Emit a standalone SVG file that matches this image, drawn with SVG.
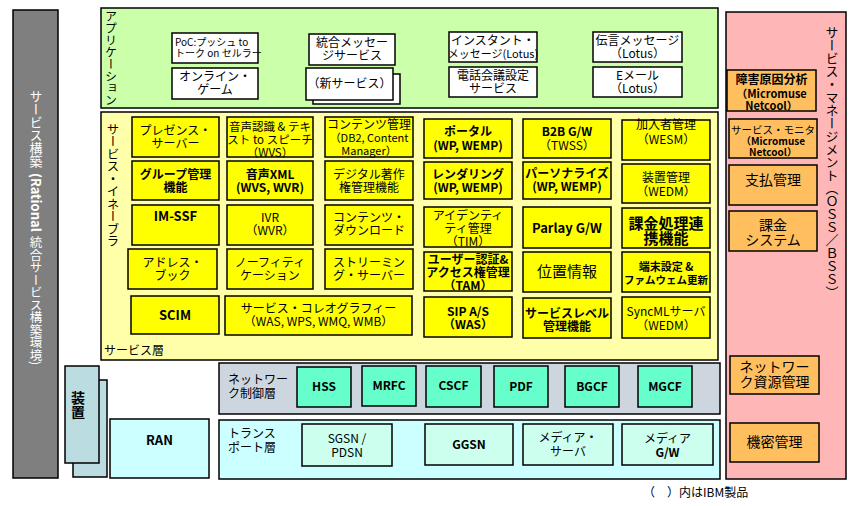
<svg xmlns="http://www.w3.org/2000/svg" width="857" height="506" viewBox="0 0 857 506">
<style>
text{font-family:"Noto Sans CJK JP","Noto Sans",sans-serif;font-size:12px;fill:#000;text-anchor:middle}
.s{text-anchor:start}
.b{font-weight:bold}
.v{writing-mode:vertical-rl}
.w{fill:#fff}
rect{stroke:#000;stroke-width:1.5}
rect.bg{stroke:none}
.app{fill:#fff}
.yl{fill:#ffff00}
.or{fill:#ffbf5f}
.aq{fill:#66ffcc}
.mt{fill:#ccffee}
</style>
<rect class="bg" width="857" height="506" fill="#fff"/>
<g id="build-env">
<rect x="13" y="10" width="45" height="468" fill="#7f7f7f"/>
<text class="v s w" x="36" y="90" style="font-size:13px">サービス構築</text>
<text class="v s w b" x="36" y="173" style="font-size:13px">(Rational</text>
<text class="v s w" x="36" y="236" style="font-size:12.5px">統合サービス構築環境)</text>
</g>
<g id="application-layer">
<rect x="101" y="8" width="617" height="100" fill="#ccffaa"/>
<text class="v" x="111" y="58" style="font-size:12px">アプリケーション</text>
</g>
<g id="service-management">
<rect x="726" y="12" width="120" height="467" fill="#ffb6b6"/>
<text class="v" x="832" y="162" style="font-size:13px">サービス・マネージメント（ＯＳＳ／ＢＳＳ）</text>
</g>
<g id="service-layer">
<rect x="101" y="112" width="617" height="248" fill="#ffffaa"/>
<text class="v" x="113" y="185" style="font-size:12.5px">サービス・イネーブラ</text>
<text class="s" x="104" y="355">サービス層</text>
</g>
<g id="network-control-layer">
<rect x="219" y="363" width="501" height="51" fill="#cdd6df"/>
<text class="s" x="228" y="384">ネットワー</text>
<text class="s" x="228" y="398">ク制御層</text>
</g>
<g id="transport-layer">
<rect x="219" y="420" width="501" height="59" fill="#ccffff"/>
<text class="s" x="228" y="438">トランス</text>
<text class="s" x="228" y="452">ポート層</text>
</g>
<g id="device">
<rect x="73" y="380" width="34" height="97" fill="#bbdde2"/>
<rect x="65" y="366" width="34" height="97" fill="#bbdde2"/>
<text class="v b" x="78" y="405" style="font-size:14px">装置</text>
</g>
<g id="ran">
<rect x="110" y="419" width="99" height="59" fill="#ccffff"/>
<text class="b" x="159.5" y="445" style="font-size:13px">RAN</text>
</g>

<!-- Application nodes -->
<g id="app-poc"><rect class="app" x="172" y="33" width="86" height="30"/>
<text class="s" x="175" y="46" style="font-size:10px">PoC:プッシュ to</text>
<text class="s" x="175" y="57" style="font-size:10px">トーク on セルラー</text></g>
<g id="app-game"><rect class="app" x="172" y="68" width="86" height="31"/>
<text x="215" y="81">オンライン・</text><text x="215" y="94">ゲーム</text></g>
<g id="app-unified-msg"><rect class="app" x="309" y="34" width="86" height="31"/>
<text x="352" y="47">統合メッセー</text><text x="352" y="60">ジサービス</text></g>
<g id="app-new"><rect class="app" x="313" y="74" width="87" height="30"/>
<rect class="app" x="306" y="68" width="87" height="32"/>
<text x="349.5" y="88">（新サービス）</text></g>
<g id="app-im"><rect class="app" x="449" y="32" width="88" height="30"/>
<text x="493" y="45">インスタント・</text><text x="493" y="58" style="font-size:11px">メッセージ(Lotus)</text></g>
<g id="app-conf"><rect class="app" x="449" y="67" width="88" height="30"/>
<text x="493" y="80">電話会議設定</text><text x="493" y="93">サービス</text></g>
<g id="app-voicemsg"><rect class="app" x="593" y="32" width="89" height="30"/>
<text x="637.5" y="45">伝言メッセージ</text><text x="637.5" y="58">（Lotus）</text></g>
<g id="app-email"><rect class="app" x="593" y="67" width="89" height="30"/>
<text x="637.5" y="80">Eメール</text><text x="637.5" y="93">（Lotus）</text></g>

<!-- Service enablers col1 -->
<g id="se-presence"><rect class="yl" x="132" y="117" width="87" height="40"/>
<text x="175.5" y="135">プレゼンス・</text><text x="175.5" y="148">サーバー</text></g>
<g id="se-group"><rect class="yl" x="132" y="161" width="87" height="39"/>
<text class="b" x="175.5" y="178.5">グループ管理</text><text class="b" x="175.5" y="191.5">機能</text></g>
<g id="se-imssf"><rect class="yl" x="132" y="205" width="87" height="40"/>
<text class="b" x="175.5" y="221" style="font-size:13px">IM-SSF</text></g>
<g id="se-address"><rect class="yl" x="128" y="249" width="89" height="40"/>
<text x="172.5" y="267">アドレス・</text><text x="172.5" y="280">ブック</text></g>
<g id="se-scim"><rect class="yl" x="131" y="296" width="88" height="38"/>
<text class="b" x="175" y="320" style="font-size:13px">SCIM</text></g>

<!-- col2 -->
<g id="se-tts"><rect class="yl" x="227" y="117" width="86" height="40"/>
<text x="270" y="131" style="font-size:11.5px">音声認識 &amp; テキ</text>
<text x="270" y="144" style="font-size:11.5px">スト to スピーチ</text>
<text x="270" y="157" style="font-size:11.5px">（WVS）</text></g>
<g id="se-voicexml"><rect class="yl" x="227" y="161" width="86" height="39"/>
<text class="b" x="270" y="178.5">音声XML</text><text class="b" x="270" y="191.5">(WVS, WVR)</text></g>
<g id="se-ivr"><rect class="yl" x="227" y="205" width="86" height="40"/>
<text x="270" y="222">IVR</text><text x="270" y="235">（WVR）</text></g>
<g id="se-notification"><rect class="yl" x="227" y="249" width="86" height="40"/>
<text x="270" y="267">ノーフィティ</text><text x="270" y="280">ケーション</text></g>
<g id="se-choreography"><rect class="yl" x="225" y="296" width="187" height="39"/>
<text x="318.5" y="313">サービス・コレオグラフィー</text><text x="318.5" y="326">（WAS, WPS, WMQ, WMB）</text></g>

<!-- col3 -->
<g id="se-content-mgmt"><rect class="yl" x="325" y="117" width="88" height="40"/>
<text x="369" y="129">コンテンツ管理</text>
<text x="369" y="142" style="font-size:11px">（DB2, Content</text>
<text x="369" y="155" style="font-size:11px">Manager）</text></g>
<g id="se-drm"><rect class="yl" x="325" y="161" width="88" height="39"/>
<text x="369" y="178.5">デジタル著作</text><text x="369" y="191.5">権管理機能</text></g>
<g id="se-download"><rect class="yl" x="325" y="205" width="88" height="40"/>
<text x="369" y="221.5">コンテンツ・</text><text x="369" y="234.5">ダウンロード</text></g>
<g id="se-streaming"><rect class="yl" x="325" y="249" width="88" height="40"/>
<text x="369" y="267">ストリーミン</text><text x="369" y="280">グ・サーバー</text></g>

<!-- col4 -->
<g id="se-portal"><rect class="yl" x="424" y="119" width="88" height="39"/>
<text class="b" x="468" y="136">ポータル</text><text class="b" x="468" y="150">(WP, WEMP)</text></g>
<g id="se-rendering"><rect class="yl" x="424" y="162" width="88" height="37"/>
<text class="b" x="468" y="178.5">レンダリング</text><text class="b" x="468" y="191.5">(WP, WEMP)</text></g>
<g id="se-identity"><rect class="yl" x="424" y="207" width="88" height="40"/>
<text x="468" y="220">アイデンティ</text><text x="468" y="233">ティ管理</text><text x="468" y="246">（TIM）</text></g>
<g id="se-auth"><rect class="yl" x="424" y="252" width="88" height="39"/>
<text class="b" x="468" y="264">ユーザー認証&amp;</text><text class="b" x="468" y="277">アクセス権管理</text><text class="b" x="468" y="290">（TAM）</text></g>
<g id="se-sip"><rect class="yl" x="424" y="297" width="88" height="40"/>
<text class="b" x="468" y="316">SIP A/S</text><text class="b" x="468" y="329">（WAS）</text></g>

<!-- col5 -->
<g id="se-b2b"><rect class="yl" x="523" y="119" width="88" height="39"/>
<text class="b" x="567" y="136">B2B G/W</text><text x="567" y="150">（TWSS）</text></g>
<g id="se-personalize"><rect class="yl" x="523" y="162" width="88" height="37"/>
<text class="b" x="567" y="178">パーソナライズ</text><text class="b" x="567" y="191">(WP, WEMP)</text></g>
<g id="se-parlay"><rect class="yl" x="523" y="207" width="88" height="41"/>
<text class="b" x="567" y="233" style="font-size:13px">Parlay G/W</text></g>
<g id="se-location"><rect class="yl" x="523" y="252" width="88" height="40"/>
<text x="567" y="277" style="font-size:15px">位置情報</text></g>
<g id="se-sla"><rect class="yl" x="523" y="298" width="88" height="40"/>
<text class="b" x="567" y="318">サービスレベル</text><text class="b" x="567" y="331">管理機能</text></g>

<!-- col6 -->
<g id="se-subscriber"><rect class="yl" x="622" y="120" width="88" height="40"/>
<text x="666" y="129">加入者管理</text><text x="666" y="144">（WESM）</text></g>
<g id="se-device-mgmt"><rect class="yl" x="622" y="164" width="88" height="39"/>
<text x="666" y="182">装置管理</text><text x="666" y="196">（WEDM）</text></g>
<g id="se-billing-link"><rect class="yl" x="622" y="208" width="88" height="40"/>
<text class="b" x="666" y="228.5" style="font-size:15px">課金処理連</text><text class="b" x="666" y="244" style="font-size:15px">携機能</text></g>
<g id="se-terminal"><rect class="yl" x="622" y="252" width="88" height="40"/>
<text class="b" x="666" y="271" style="font-size:11px">端末設定 &amp;</text><text class="b" x="666" y="284" style="font-size:10.5px">ファムウェム更新</text></g>
<g id="se-syncml"><rect class="yl" x="622" y="297" width="88" height="41"/>
<text x="666" y="316">SyncMLサーバ</text><text x="666" y="330">（WEDM）</text></g>

<!-- management -->
<g id="sm-fault"><rect class="or" x="727" y="70" width="89" height="41"/>
<text class="b" x="771.5" y="83.5">障害原因分析</text>
<text class="b" x="771.5" y="98" style="font-size:11px">（Micromuse</text>
<text class="b" x="771.5" y="110" style="font-size:11px">Netcool）</text></g>
<g id="sm-monitor"><rect class="or" x="729" y="119" width="88" height="39"/>
<text x="773" y="134" style="font-size:10.5px">サービス・モニタ</text>
<text class="b" x="773" y="145" style="font-size:10px">（Micromuse</text>
<text class="b" x="773" y="156" style="font-size:10px">Netcool）</text></g>
<g id="sm-payment"><rect class="or" x="729" y="165" width="88" height="40"/>
<text x="773" y="185" style="font-size:14px">支払管理</text></g>
<g id="sm-billing"><rect class="or" x="729" y="211" width="88" height="40"/>
<text x="773" y="230" style="font-size:14px">課金</text><text x="773" y="245" style="font-size:14px">システム</text></g>
<g id="sm-network-resource"><rect class="or" x="730" y="356" width="89" height="38"/>
<text x="774.5" y="372" style="font-size:14px">ネットワー</text><text x="774.5" y="387" style="font-size:14px">ク資源管理</text></g>
<g id="sm-security"><rect class="or" x="730" y="423" width="89" height="39"/>
<text x="774.5" y="447" style="font-size:14px">機密管理</text></g>

<!-- network control nodes -->
<g id="nc-hss"><rect class="aq" x="297" y="367" width="54" height="40"/><text class="b" x="324" y="391">HSS</text></g>
<g id="nc-mrfc"><rect class="aq" x="362" y="366" width="54" height="40"/><text class="b" x="389" y="390">MRFC</text></g>
<g id="nc-cscf"><rect class="aq" x="426" y="366" width="55" height="41"/><text class="b" x="453.5" y="390">CSCF</text></g>
<g id="nc-pdf"><rect class="aq" x="494" y="366" width="54" height="41"/><text class="b" x="521" y="391">PDF</text></g>
<g id="nc-bgcf"><rect class="aq" x="565" y="366" width="54" height="41"/><text class="b" x="592" y="391">BGCF</text></g>
<g id="nc-mgcf"><rect class="aq" x="638" y="366" width="54" height="41"/><text class="b" x="665" y="391">MGCF</text></g>

<!-- transport nodes -->
<g id="tp-sgsn"><rect class="mt" x="302" y="424" width="90" height="42"/>
<text x="347" y="443">SGSN /</text><text x="347" y="457">PDSN</text></g>
<g id="tp-ggsn"><rect class="mt" x="425" y="424" width="88" height="41"/>
<text class="b" x="469" y="449">GGSN</text></g>
<g id="tp-media-server"><rect class="mt" x="523" y="424" width="90" height="41"/>
<text x="568" y="442">メディア・</text><text x="568" y="456">サーバ</text></g>
<g id="tp-media-gw"><rect class="mt" x="622" y="424" width="91" height="41"/>
<text x="667.5" y="443">メディア</text><text class="b" x="667.5" y="457">G/W</text></g>

<g id="connectors"></g>

<text class="s" x="643" y="497">（　）内はIBM製品</text>
</svg>
